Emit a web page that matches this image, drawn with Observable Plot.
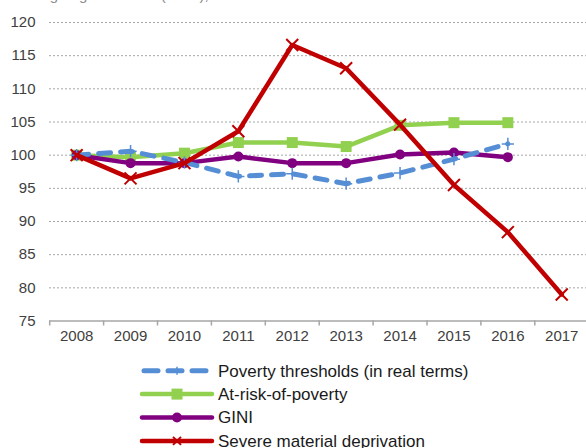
<!DOCTYPE html>
<html><head><meta charset="utf-8">
<script src="https://cdn.jsdelivr.net/npm/d3@7"></script>
<script src="https://cdn.jsdelivr.net/npm/@observablehq/plot@0.6"></script>
<style>
body{margin:0;background:#fff;font-family:"Liberation Sans",Arial,sans-serif;}
#wrap{position:relative;width:586px;height:448px;overflow:hidden;background:#fff;}
#sub{position:absolute;top:-14px;left:14px;font-size:15px;color:#8c8c8c;white-space:nowrap;}
#chart{position:absolute;top:0;left:0;}
#legend{position:absolute;left:0;top:352px;}
</style></head><body>
<div id="wrap"><div id="sub">Change against 2008 (=100), %</div><div id="chart"></div><div id="legend"></div></div>
<script>
const years = [2008, 2009, 2010, 2011, 2012, 2013, 2014, 2015, 2016, 2017];
const povertyThresholds = [100, 100.6, 98.9, 96.8, 97.2, 95.7, 97.3, 99.4, 101.7, null];
const atRiskOfPoverty = [100, 99.7, 100.3, 101.9, 101.9, 101.3, 104.5, 104.9, 104.9, null];
const gini = [100, 98.8, 98.8, 99.8, 98.8, 98.8, 100.1, 100.4, 99.7, null];
const severeDeprivation = [100, 96.5, 98.8, 103.6, 116.6, 113.1, 104.6, 95.5, 88.4, 79.0];
const yTicks = [75, 80, 85, 90, 95, 100, 105, 110, 115, 120];
const seriesNames = ["Poverty thresholds (in real terms)", "At-risk-of-poverty", "GINI", "Severe material deprivation"];
const seriesColors = ["#558ED5", "#92D050", "#800080", "#C00000"];

const toRows = arr => years.map((y, i) => ({year: y, value: arr[i]})).filter(d => d.value != null);
const blue = toRows(povertyThresholds), green = toRows(atRiskOfPoverty), purple = toRows(gini), red = toRows(severeDeprivation);
const boundaries = years.map(y => y - 0.5).concat([years[years.length - 1] + 0.5]);

const chart = Plot.plot({
  width: 586, height: 352,
  marginTop: 22, marginBottom: 31.5, marginLeft: 49, marginRight: 0,
  style: {fontFamily: '"Liberation Sans", Arial, sans-serif', background: "transparent"},
  x: {type: "linear", domain: [2007.5, 2017.5], range: [49.2, 588.2]},
  y: {domain: [75, 120]},
  marks: [
    Plot.gridY(yTicks.filter(t => t > 75), {stroke: "#a6a6a6", strokeOpacity: 1, strokeDasharray: "2,2", strokeWidth: 1}),
    Plot.axisY(yTicks, {tickSize: 0, tickPadding: 14, fontSize: 15, fill: "#404040", label: null}),
    Plot.ruleY([75], {stroke: "#a6a6a6", strokeWidth: 1.5}),
    Plot.axisX(boundaries, {tickSize: 5, tickFormat: () => "", stroke: "#a6a6a6", strokeWidth: 1.5, label: null}),
    Plot.axisX(years, {tickSize: 0, tickPadding: 9, fontSize: 15, fill: "#404040", tickFormat: d => String(d), label: null}),
    Plot.line(green, {x: "year", y: "value", stroke: seriesColors[1], strokeWidth: 4.5}),
    Plot.dot(green, {x: "year", y: "value", symbol: "square", r: 6.2, fill: seriesColors[1]}),
    Plot.line(purple, {x: "year", y: "value", stroke: seriesColors[2], strokeWidth: 4.5}),
    Plot.dot(purple, {x: "year", y: "value", symbol: "circle", r: 5, fill: seriesColors[2]}),
    Plot.line(blue, {x: "year", y: "value", stroke: seriesColors[0], strokeWidth: 5, strokeDasharray: "12,10", strokeLinecap: "round"}),
    Plot.dot(blue, {x: "year", y: "value", symbol: "plus", r: 4, stroke: seriesColors[0], strokeWidth: 1.5}),
    Plot.line(red, {x: "year", y: "value", stroke: seriesColors[3], strokeWidth: 4.5}),
    Plot.dot(red, {x: "year", y: "value", symbol: "times", r: 5.5, stroke: seriesColors[3], strokeWidth: 2})
  ]
});
document.getElementById("chart").appendChild(chart);

// Legend
const lg = d3.select("#legend").append("svg").attr("width", 586).attr("height", 96);
const rowY = i => 18.7 + i * 23.4;
seriesNames.forEach((name, i) => {
  const g = lg.append("g").attr("transform", `translate(0,${rowY(i)})`);
  const c = seriesColors[i];
  const line = g.append("line").attr("x1", 142).attr("x2", 212).attr("y1", 0).attr("y2", 0)
    .attr("stroke", c).attr("stroke-width", 4.5).attr("stroke-linecap", "round");
  if (i === 0) line.attr("stroke-dasharray", "14,10").attr("x1", 144).attr("x2", 210).attr("stroke-width", 5);
  const cx = 177;
  if (i === 0) g.append("path").attr("d", `M${cx - 4},0H${cx + 4}M${cx},-4V4`).attr("stroke", c).attr("stroke-width", 1.5);
  if (i === 1) g.append("rect").attr("x", cx - 5.5).attr("y", -5.5).attr("width", 11).attr("height", 11).attr("fill", c);
  if (i === 2) g.append("circle").attr("cx", cx).attr("cy", 0).attr("r", 5).attr("fill", c);
  if (i === 3) g.append("path").attr("d", `M${cx - 4},-4L${cx + 4},4M${cx - 4},4L${cx + 4},-4`).attr("stroke", c).attr("stroke-width", 2);
  g.append("text").attr("x", 218).attr("y", 0).attr("dy", "0.35em").attr("font-size", 17)
    .attr("font-family", '"Liberation Sans", Arial, sans-serif').attr("fill", "#1a1a1a").text(name);
});
</script>
</body></html>
